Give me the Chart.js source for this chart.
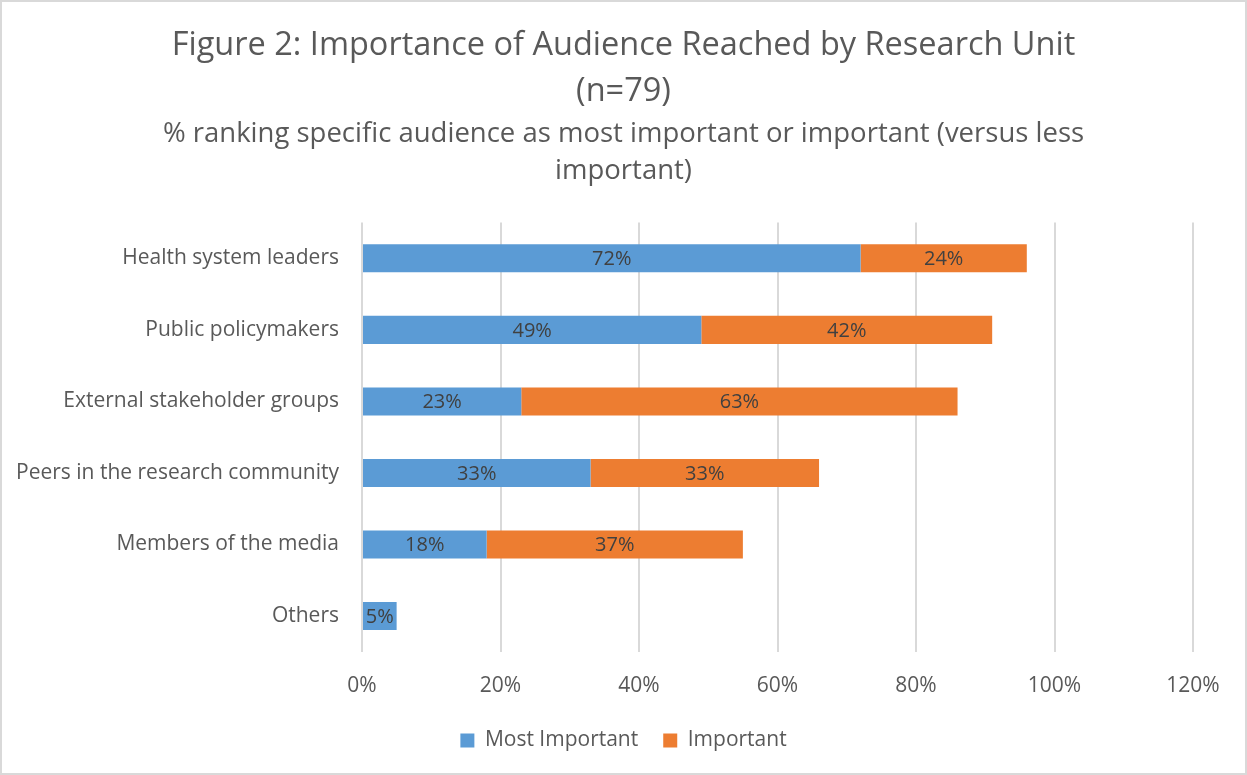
<!DOCTYPE html>
<html><head><meta charset="utf-8">
<script src="https://cdn.jsdelivr.net/npm/chart.js@4"></script>
<style>
html,body{margin:0;padding:0;background:#fff;}
#wrap{position:relative;width:1247px;height:775px;box-sizing:border-box;border:2px solid #d9d9d9;}
canvas{display:block;}
</style></head><body>
<div id="wrap"><canvas id="c" width="1243" height="771"></canvas></div>
<script>
const categories = ['Health system leaders','Public policymakers','External stakeholder groups','Peers in the research community','Members of the media','Others'];
const mostImportant = [72,49,23,33,18,5];
const important = [24,42,63,33,37,0];
const xTicks = [0,20,40,60,80,100,120];
const titleLines = ['Figure 2: Importance of Audience Reached by Research Unit','(n=79)'];
const subtitleLines = ['% ranking specific audience as most important or important (versus less','important)'];

const FONT = "'Open Sans', sans-serif";
const TXT = '#595959';
const LEG_SHIFT = 16;

const labelPlugin = {
  id:'barLabels',
  afterDatasetsDraw(chart){
    const ctx = chart.ctx;
    ctx.save();
    ctx.font = '20px ' + FONT;
    ctx.fillStyle = '#404040';
    ctx.textAlign='center';
    ctx.textBaseline='middle';
    chart.data.datasets.forEach((ds,di)=>{
      const meta = chart.getDatasetMeta(di);
      meta.data.forEach((bar,i)=>{
        const v = ds.data[i];
        if(!v) return;
        const p = bar.getProps(['x','y','base'],true);
        ctx.fillText(v+'%', (p.x+p.base)/2, p.y+1);
      });
    });
    ctx.restore();
  }
};

const legendSpacing = {
  id:'legendSpacing',
  beforeInit(chart){
    const lg = chart.legend;
    if(!lg) return;
    const origFit = lg.fit;
    lg.fit = function(){ origFit.call(this); this.height -= LEG_SHIFT; };
    const origDraw = lg.draw;
    lg.draw = function(a){ this.top -= LEG_SHIFT; origDraw.call(this,a); this.top += LEG_SHIFT; };
  }
};

new Chart(document.getElementById('c'),{
  type:'bar',
  data:{labels:categories,datasets:[
    {label:'Most Important',data:mostImportant,backgroundColor:'#5B9BD5',yAxisID:'y'},
    {label:'Important',data:important,backgroundColor:'#ED7D31',yAxisID:'y'}
  ]},
  options:{
    indexAxis:'y',responsive:false,animation:false,
    layout:{padding:{left:0,right:0,top:20,bottom:12}},
    datasets:{bar:{categoryPercentage:0.8,barPercentage:0.49}},
    plugins:{
      title:{display:true,text:titleLines,color:TXT,font:{family:FONT,size:32.5,weight:'normal',lineHeight:1.44},padding:{top:0,bottom:0}},
      subtitle:{display:true,text:subtitleLines,color:TXT,font:{family:FONT,size:27.5,weight:'normal',lineHeight:1.345},padding:{top:0,bottom:33}},
      legend:{position:'bottom',labels:{color:TXT,font:{family:FONT,size:21},boxWidth:14,boxHeight:14,padding:25}},
      tooltip:{enabled:false}
    },
    scales:{
      x:{stacked:true,min:0,max:120,
        afterBuildTicks(ax){ax.ticks = xTicks.map(v=>({value:v}));},
        ticks:{color:TXT,font:{family:FONT,size:21},padding:22,callback:v=>v+'%'},
        grid:{color:'#d9d9d9',lineWidth:2,drawTicks:false},border:{display:false}},
      y:{stacked:true,
        ticks:{color:TXT,font:{family:FONT,size:21},padding:15},
        grid:{display:false},border:{display:false},
        afterFit(ax){ax.width=360;}},
      yRight:{type:'category',position:'right',display:true,
        ticks:{display:false},grid:{display:false},border:{display:false},
        afterFit(ax){ax.width=52;}}
    }
  },
  plugins:[labelPlugin, legendSpacing]
});
</script></body></html>
